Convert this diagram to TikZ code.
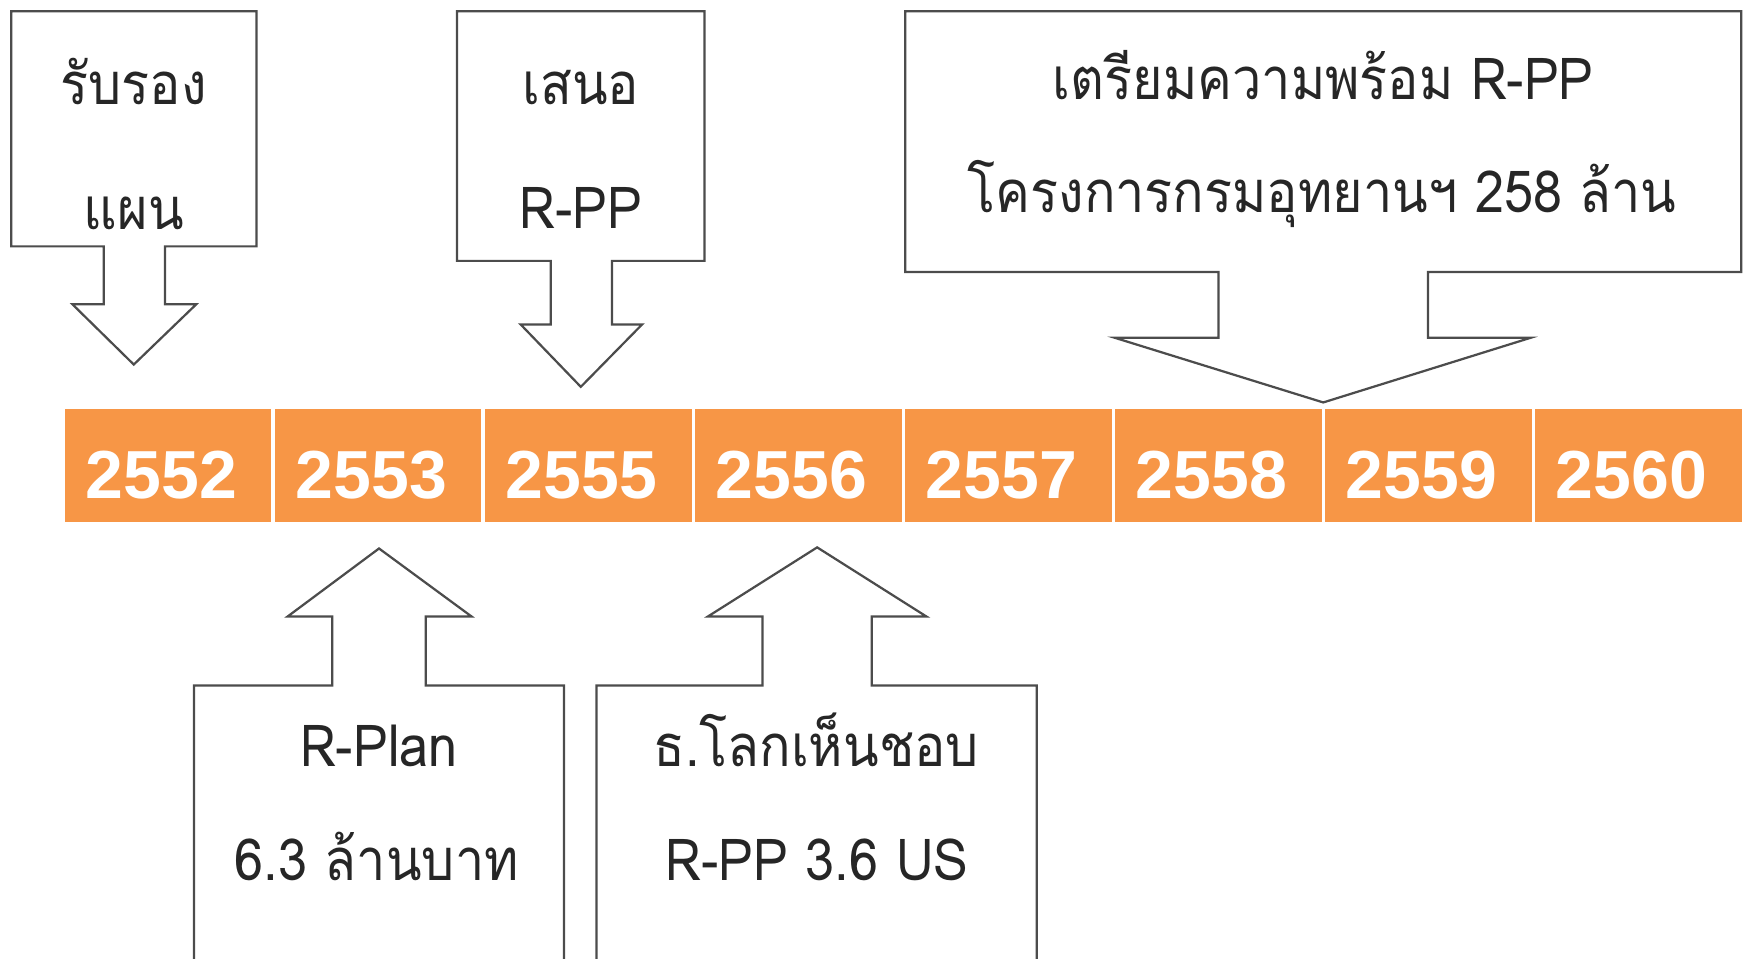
\documentclass[tikz,border=0pt]{standalone}
\usepackage{fontspec}
\newfontfamily\thaifont[Script=Thai, FakeStretch=0.9]{Loma}
\newfontfamily\yearfont{Liberation Sans}
\definecolor{yearorange}{HTML}{F79646}
\usetikzlibrary{positioning}

\begin{document}
\begin{tikzpicture}[x=1pt, y=-1pt,
        callout/.style={draw=black!70, line width=2pt, fill=white, line join=miter},
        note/.style={font=\thaifont\fontsize{52}{60}\selectfont, text=black!85, inner sep=0pt, anchor=base},
        yearcell/.style={fill=yearorange, text=white, font=\yearfont\bfseries\fontsize{61}{70}\selectfont, minimum width=185.5pt, minimum height=101pt, inner sep=0pt, text height=59pt, text depth=0pt, execute at begin node=\hspace*{-12pt}}]
        \useasboundingbox (0,0) rectangle (1568,860);
        \clip (0,0) rectangle (1568,860);

        \draw[callout] (10,10) -- (230,10) -- (230,221) -- (148,221) -- (148,273) -- (176,273) -- (120,327) -- (65,273) -- (93,273) -- (93,221) -- (10,221) -- cycle;
        \draw[callout] (410,10) -- (632,10) -- (632,234) -- (549,234) -- (549,291) -- (576,291) -- (521,347) -- (467,291) -- (494,291) -- (494,234) -- (410,234) -- cycle;
        \draw[callout] (812,10) -- (1562,10) -- (1562,244) -- (1281,244) -- (1281,303) -- (1373,303) -- (1187,361) -- (1000,303) -- (1093,303) -- (1093,244) -- (812,244) -- cycle;
        \draw[callout] (174,880) -- (174,615) -- (298,615) -- (298,553) -- (258,553) -- (340,492) -- (423,553) -- (382,553) -- (382,615) -- (506,615) -- (506,880);
        \draw[callout] (535,880) -- (535,615) -- (684,615) -- (684,553) -- (635,553) -- (733,491) -- (831,553) -- (782,553) -- (782,615) -- (930,615) -- (930,880);

        \node[note] (rabrong) at (120,94) {รับรอง};
        \node[note] (phaen) at (120,206) {แผน};
        \node[note] (sanoe) at (521,94) {เสนอ};
        \node[note] (rpp) at (521,205) {R-PP};
        \node[note] (triam) at (1187,89) {เตรียมความพร้อม R-PP};
        \node[note] (khrongkan) at (1186,191) {โครงการกรมอุทยานฯ 258 ล้าน};
        \node[note] (rplan) at (340,688) {R-Plan};
        \node[note] (lanbaht) at (338,790) {6.3 ล้านบาท};
        \node[note] (lokhenchob) at (732,688) {ธ.โลกเห็นชอบ};
        \node[note] (rppus) at (733,790) {R-PP 3.6 US};

        \node[yearcell] (y2552) at (150.75,417.5) {2552};
        \node[yearcell, right=2.5pt of y2552] (y2553) {2553};
        \node[yearcell, right=2.5pt of y2553] (y2555) {2555};
        \node[yearcell, right=2.5pt of y2555] (y2556) {2556};
        \node[yearcell, right=2.5pt of y2556] (y2557) {2557};
        \node[yearcell, right=2.5pt of y2557] (y2558) {2558};
        \node[yearcell, right=2.5pt of y2558] (y2559) {2559};
        \node[yearcell, right=2.5pt of y2559] (y2560) {2560};
    \end{tikzpicture}
\end{document}
